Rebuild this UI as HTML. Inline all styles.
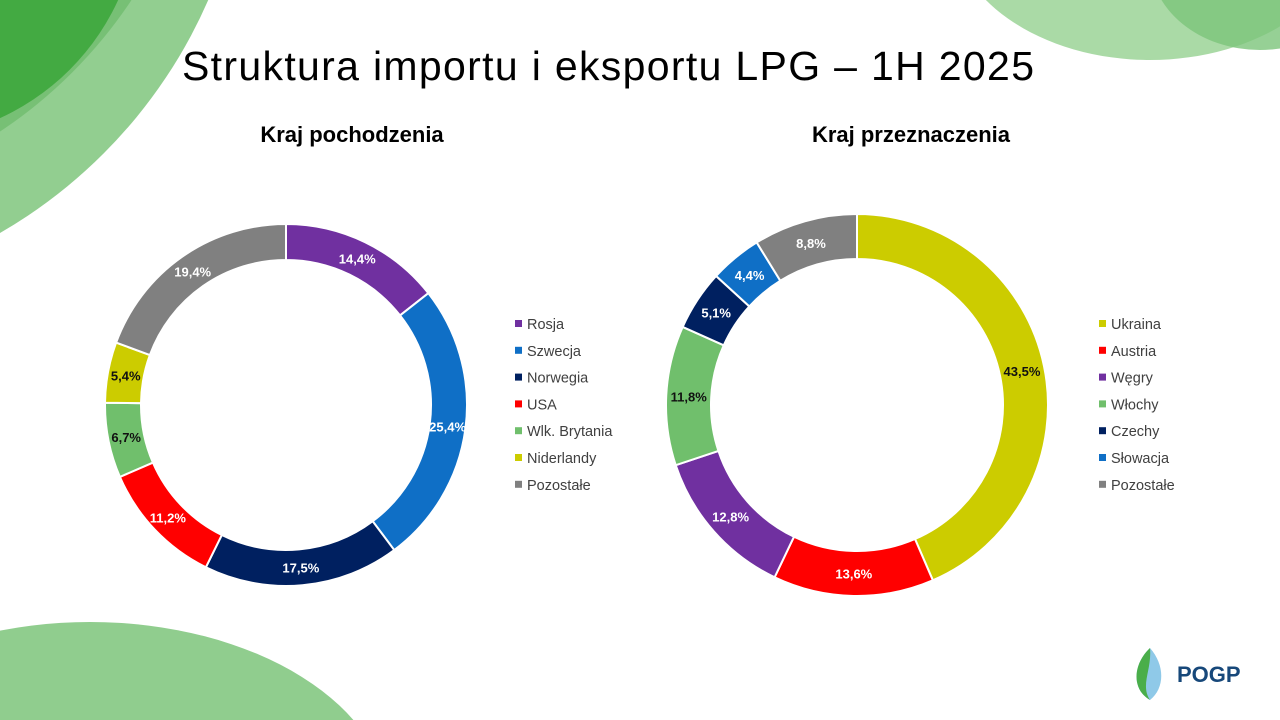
<!DOCTYPE html>
<html><head><meta charset="utf-8"><style>
html,body{margin:0;padding:0;background:#fff;overflow:hidden;width:1280px;height:720px;}
svg{display:block;font-family:"Liberation Sans",sans-serif;overflow:hidden;}
</style></head><body>
<svg id="chart" width="1280" height="720" viewBox="0 0 1280 720">
<defs><clipPath id="frame"><rect x="0" y="0" width="1280" height="720"/></clipPath></defs>
<g clip-path="url(#frame)">
<g>
<circle cx="-250" cy="-200" r="500" fill="#86c984" opacity="0.9"/>
<circle cx="-260" cy="-260" r="470" fill="#66b864" opacity="0.6"/>
<circle cx="-100" cy="-100" r="240" fill="#3aa63a" opacity="0.85"/>
</g>
<g>
<ellipse cx="1150" cy="-80" rx="200" ry="140" fill="#9bd496" opacity="0.85"/>
<ellipse cx="1260" cy="-40" rx="110" ry="90" fill="#7cc47a" opacity="0.8"/>
</g>
<g>
<ellipse cx="90" cy="810" rx="300" ry="188" fill="#7cc47a" opacity="0.85"/>
</g>
</g>
<text x="608" y="80" text-anchor="middle" font-size="41" textLength="852" fill="#000" font-weight="300">Struktura importu i eksportu LPG – 1H 2025</text>
<text x="352" y="142" text-anchor="middle" font-size="22" font-weight="bold" fill="#000">Kraj pochodzenia</text>
<text x="911" y="142" text-anchor="middle" font-size="22" font-weight="bold" fill="#000">Kraj przeznaczenia</text>
<g id="logo">
<path d="M1150 648 C1132 665 1132 690 1150 700 C1165 688 1165 665 1150 648Z" fill="#8fc9e8"/>
<path d="M1150 648 C1132 665 1132 690 1150 700 C1140 685 1152 670 1150 648Z" fill="#4aae4a"/>
<text x="1177" y="682" font-size="22" font-weight="bold" fill="#17487a">POGP</text>
</g>
</svg>
<script>
const leftCategories = ["Rosja","Szwecja","Norwegia","USA","Wlk. Brytania","Niderlandy","Pozostałe"];
const leftValues = [14.4,25.4,17.5,11.2,6.7,5.4,19.4];
const leftColors = ["#7030a0","#0f6fc6","#002060","#ff0000","#70bf6c","#cccc00","#808080"];
const rightCategories = ["Ukraina","Austria","Węgry","Włochy","Czechy","Słowacja","Pozostałe"];
const rightValues = [43.5,13.6,12.8,11.8,5.1,4.4,8.8];
const rightColors = ["#cccc00","#ff0000","#7030a0","#70bf6c","#002060","#0f6fc6","#808080"];
const NS="http://www.w3.org/2000/svg";
const svg=document.getElementById('chart');
function mk(t,a){const e=document.createElementNS(NS,t);for(const k in a)e.setAttribute(k,a[k]);return e;}
function pt(cx,cy,r,a){return [cx+r*Math.sin(a),cy-r*Math.cos(a)];}
function donut(name,cats,vals,cols,cx,cy,ro,ri,lx,ly){
  const g=mk('g',{});
  
  
  svg.appendChild(g);
  const tot=vals.reduce((s,v)=>s+v,0);
  let a0=0;
  vals.forEach((v,i)=>{
    const a1=a0+v/tot*2*Math.PI;
    const large=(a1-a0)>Math.PI?1:0;
    const [x1,y1]=pt(cx,cy,ro,a0),[x2,y2]=pt(cx,cy,ro,a1),[x3,y3]=pt(cx,cy,ri,a1),[x4,y4]=pt(cx,cy,ri,a0);
    const p=mk('path',{d:`M${x1} ${y1}A${ro} ${ro} 0 ${large} 1 ${x2} ${y2}L${x3} ${y3}A${ri} ${ri} 0 ${large} 0 ${x4} ${y4}Z`,fill:cols[i],stroke:'#fff','stroke-width':2});
    
    
    g.appendChild(p);
    const [tx,ty]=pt(cx,cy,(ro+ri)/2,(a0+a1)/2);
    const dark=(cols[i]==="#cccc00"||cols[i]==="#70bf6c");
    const t=mk('text',{x:tx,y:ty+5,'text-anchor':'middle','font-size':13,'font-weight':'bold',fill:dark?'#111':'#fff'});
    t.textContent=v.toFixed(1).replace('.',',')+'%';
    
    
    g.appendChild(t);
    const ry=ly+i*26.8;
    const m=mk('rect',{x:lx,y:ry-4,width:7,height:7,fill:cols[i]});
    
    
    g.appendChild(m);
    const lt=mk('text',{x:lx+12,y:ry+5,'font-size':14.5,fill:'#404040'});
    lt.textContent=cats[i];
    
    
    g.appendChild(lt);
    a0=a1;
  });
}
donut('origin-donut',leftCategories,leftValues,leftColors,286,405,181,145,515,324);
donut('destination-donut',rightCategories,rightValues,rightColors,857,405,191,146,1099,324);
</script>
</body></html>
